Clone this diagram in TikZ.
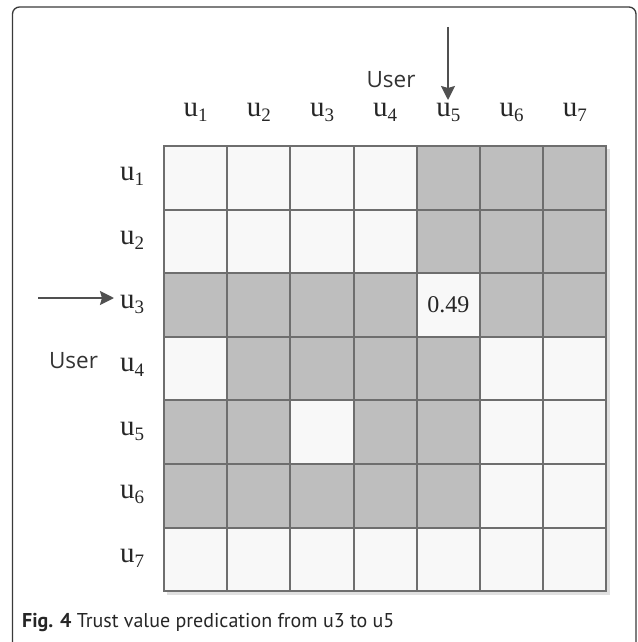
\documentclass[tikz,border=0pt]{standalone}
\usepackage{fontspec}
\usetikzlibrary{arrows.meta}
\newfontfamily\usrfont{Open Sans}
\newfontfamily\capfont{PT Sans}
\newfontfamily\ufont{Liberation Serif}
\definecolor{gcell}{HTML}{BEBEBE}
\definecolor{wcell}{HTML}{F8F8F8}
\definecolor{gline}{HTML}{6E6E6E}
\definecolor{arr}{HTML}{505050}
\definecolor{frm}{HTML}{3A3A3A}
\newcommand{\ulabel}[1]{{\ufont u\raisebox{-5pt}{\fontsize{19}{19}\selectfont #1}}}
\begin{document}
\begin{tikzpicture}[x=1pt,y=-1pt,
  cellbox/.style={draw=gline,line width=2pt,minimum width=63.2pt,minimum height=63.6pt,inner sep=0pt,outer sep=0pt},
  gbox/.style={cellbox,fill=gcell},
  wbox/.style={cellbox,fill=wcell},
  ulab/.style={font=\fontsize{29}{30}\selectfont,inner sep=0pt,anchor=base,text=black!85},
  usr/.style={font=\usrfont\fontsize{22.5}{24}\selectfont,inner sep=0pt,anchor=base,text=black!80},
  pointer/.style={draw=arr,line width=1.8pt,-{Stealth[length=14pt,width=14pt,inset=2pt]}}]
\useasboundingbox (0,0) rectangle (637,642);
\draw[frm,line width=1.3pt,rounded corners=7pt] (12.5,7) rectangle (636,700);
% shadow
\fill[black!12] (167,149) rectangle (610,595);
% cells
\foreach \r/\pat in {1/{0,0,0,0,1,1,1},2/{0,0,0,0,1,1,1},3/{1,1,1,1,0,1,1},4/{0,1,1,1,1,0,0},5/{1,1,0,1,1,0,0},6/{1,1,1,1,1,0,0},7/{0,0,0,0,0,0,0}}{
  \foreach \v [count=\c] in \pat {
    \ifnum\v=1
      \node[gbox] (c\r\c) at ({164+63.2*(\c-0.5)},{146+63.6*(\r-0.5)}) {};
    \else
      \node[wbox] (c\r\c) at ({164+63.2*(\c-0.5)},{146+63.6*(\r-0.5)}) {};
    \fi
  }
}
\node[font=\ufont\fontsize{24}{26}\selectfont,text=black!85] (val) at (c35) {0.49};
% column headers
\foreach \c in {1,...,7}{
  \node[ulab] (h\c) at ({164+63.2*(\c-0.5)},116) {\ulabel{\c}};
}
% row headers
\foreach \r in {1,...,7}{
  \node[ulab] (r\r) at (132,{146+63.6*(\r-0.5)+3}) {\ulabel{\r}};
}
\node[usr] (utop) at (391,87) {User};
\node[usr] (uleft) at (73.5,368) {User};
\coordinate (atop) at (448,27);
\coordinate (aleft) at (38,298);
\draw[pointer] (atop) -- (448,100);
\draw[pointer] (aleft) -- (114,298);
\node[font=\capfont\fontsize{20}{22}\selectfont,inner sep=0pt,anchor=base west,text=black!85] (cap) at (22,627) {\textbf{Fig. 4} Trust value predication from u3 to u5};
\end{tikzpicture}
\end{document}
